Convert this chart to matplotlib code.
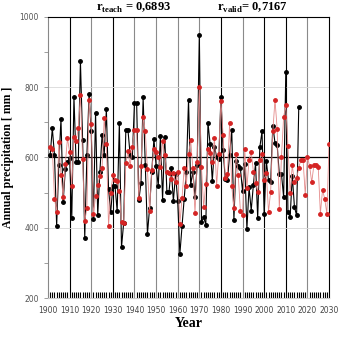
import numpy as np
import matplotlib
matplotlib.use('Agg')
import matplotlib.pyplot as plt

# observed annual precipitation (black), 1901-2016
obs_years = list(range(1901, 2017))
obs_mm = [607, 683, 607, 405, 580, 710, 473, 566, 588, 598,
          428, 772, 586, 586, 874, 651, 372, 607, 782, 675,
          426, 728, 435, 560, 663, 607, 738, 510, 444, 518,
          518, 447, 698, 344, 414, 677, 677, 607, 600, 756,
          755, 478, 527, 771, 580, 382, 457, 560, 653, 576,
          519, 660, 480, 658, 502, 503, 569, 476, 553, 475,
          325, 405, 483, 560, 764, 522, 560, 487, 578, 950,
          416, 430, 409, 699, 637, 533, 630, 602, 595, 773,
          621, 539, 535, 608, 677, 422, 591, 576, 569, 504,
          581, 396, 515, 449, 522, 583, 427, 630, 674, 438,
          589, 536, 529, 691, 641, 635, 553, 553, 487, 843,
          445, 430, 548, 459, 435, 744]

# modelled annual precipitation (red), 1901-2030
mod_years = list(range(1901, 2031))
mod_mm = [630, 625, 483, 444, 645, 550, 488, 581, 655, 615,
          519, 658, 646, 684, 777, 597, 418, 457, 765, 696,
          438, 489, 522, 548, 571, 712, 639, 405, 499, 550,
          536, 532, 505, 415, 413, 583, 618, 576, 630, 677,
          677, 485, 576, 714, 675, 566, 447, 564, 625, 616,
          602, 572, 647, 607, 560, 555, 540, 555, 529, 560,
          412, 484, 571, 520, 611, 649, 569, 441, 588, 800,
          572, 459, 525, 625, 613, 586, 656, 520, 611, 761,
          663, 541, 553, 698, 518, 455, 611, 550, 447, 435,
          624, 513, 593, 616, 560, 527, 502, 594, 611, 536,
          555, 445, 503, 674, 765, 681, 454, 602, 716, 748,
          633, 499, 578, 529, 541, 571, 594, 592, 494, 602,
          576, 529, 579, 578, 574, 440, 508, 482, 440, 639]

r_teach = '0,6893'
r_valid = '0,7167'
year_ticks = list(range(1900, 2031, 10))
dark_lines = [1910, 1930, 1980, 2000, 2010]

plt.rcParams['mathtext.fontset'] = 'custom'
plt.rcParams['mathtext.rm'] = 'Liberation Serif:bold'

fig = plt.figure(figsize=(3.39, 3.37), dpi=100)
ax = fig.add_axes([0.1416, 0.1157, 0.829, 0.834])

# vertical year gridlines
for yr in year_ticks[1:-1]:
    col = 'black' if yr in dark_lines else '#8a8a8a'
    ax.axvline(yr, color=col, lw=0.8, zorder=1)
for v in [400, 800]:
    ax.axhline(v, color='#d8d8d8', lw=0.6, zorder=1)
ax.axhline(600, color='black', lw=0.9, zorder=2)

ax.plot(obs_years, obs_mm, '-', color='black', lw=0.8, marker='o',
        ms=2.5, mfc='black', mec='black', zorder=3)
ax.plot(mod_years, mod_mm, '-', color='#e48a8a', lw=0.6, marker='o',
        ms=2.5, mfc='#d42424', mec='#d42424', zorder=4)

ax.set_xlim(1900, 2030)
ax.set_ylim(200, 1000)
ax.set_xticks(year_ticks)
ax.set_xticks(range(1900, 2031), minor=True)
ax.set_yticks([200, 400, 600, 800, 1000])
ax.set_yticks([300, 500, 700, 900], minor=True)

ax.tick_params(axis='x', which='major', length=0, labelsize=5.5,
               labelcolor='#444444', pad=6)
ax.tick_params(axis='x', which='minor', direction='in', length=4,
               width=0.8, color='black')
ax.tick_params(axis='y', which='both', direction='out', length=3,
               width=0.5, color='#777777', labelsize=5.5, labelcolor='#555555')

ax.spines['left'].set_color('#888888')
ax.spines['bottom'].set_color('#cccccc')
ax.spines['top'].set_color('black')
ax.spines['right'].set_color('black')
for s in ax.spines.values():
    s.set_linewidth(0.8)

ax.set_xlabel('Year', family='Liberation Serif', weight='bold', fontsize=10,
              labelpad=1)
ax.set_ylabel('Annual precipitation [ mm ]', family='Liberation Serif',
              weight='bold', fontsize=8.5, labelpad=4)

ax.text(1939.5, 1025, r'r$_{\mathrm{teach}}$ = ' + r_teach, ha='center',
        va='center', family='Liberation Serif', weight='bold', fontsize=9)
ax.text(1994.5, 1025, r'r$_{\mathrm{valid}}$= ' + r_valid, ha='center',
        va='center', family='Liberation Serif', weight='bold', fontsize=9)

fig.savefig('out.png', dpi=100)
